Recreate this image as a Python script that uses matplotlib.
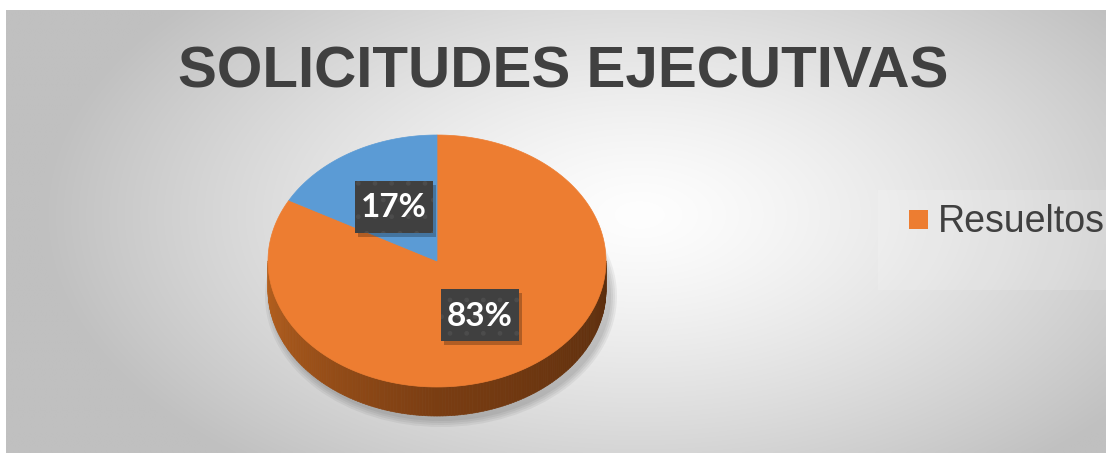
import numpy as np
import matplotlib
matplotlib.use("Agg")
import matplotlib.pyplot as plt
from matplotlib.patches import Polygon, Rectangle
from matplotlib.collections import PolyCollection
from matplotlib.colors import to_rgb

# ---- data ----
title = "SOLICITUDES EJECUTIVAS"
categories = ["Resueltos", "Pendientes"]
values = [83, 17]
colors = ["#ED7D31", "#5B9BD5"]
legend_shown = ["Resueltos"]

W, H = 1106, 453
fig = plt.figure(figsize=(W / 100, H / 100), dpi=100, facecolor="white")
ax = fig.add_axes([0, 0, 1, 1])
ax.set_xlim(0, W)
ax.set_ylim(H, 0)
ax.axis("off")

# ---- background radial gradient ----
x0, y0 = 6, 10
xs = np.linspace(x0, W, 400)
ys = np.linspace(y0, H, 200)
X, Y = np.meshgrid(xs, ys)
r = np.sqrt(((X - 640) / 600.0) ** 2 + ((Y - 215) / 330.0) ** 2)
r = np.clip(r, 0, 1)
v = (254 - (254 - 192) * r ** 1.3) / 255.0
img = np.dstack([v, v, v])
ax.imshow(img, extent=[x0, W, H, y0], aspect="auto", zorder=0, interpolation="bilinear")

# legend band highlight
ax.add_patch(Rectangle((878, 190), W - 878, 100, facecolor="white", alpha=0.15,
                       edgecolor="none", zorder=1))

# ---- 3D pie ----
cx, cy, a, b, depth = 437, 261, 169, 126, 29
total = float(sum(values))
fracs = [v_ / total for v_ in values]

def pt(t_deg, rr=1.0, dz=0.0):
    t = np.deg2rad(t_deg)
    return cx + rr * a * np.cos(t), cy - rr * b * np.sin(t) + dz

# soft shadow under pie
for k, al in enumerate([0.05, 0.05, 0.05, 0.05]):
    e = matplotlib.patches.Ellipse((cx + 4, cy + depth + 6), 2 * a + 14 - 4 * k,
                                   2 * b + 10 - 4 * k, facecolor="black", alpha=al,
                                   edgecolor="none", zorder=2)
    ax.add_patch(e)

# rim (front half)
c_left = np.array(to_rgb("#B8621F"))
c_mid = np.array(to_rgb("#7A3D12"))
c_right = np.array(to_rgb("#5A2D0D"))
ts = np.linspace(180, 360, 181)
quads, qcols = [], []
for t1, t2 in zip(ts[:-1], ts[1:]):
    p1 = pt(t1); p2 = pt(t2)
    quads.append([p1, p2, (p2[0], p2[1] + depth), (p1[0], p1[1] + depth)])
    f = ((t1 + t2) / 2 - 180) / 180.0
    if f < 0.5:
        c = c_left + (c_mid - c_left) * (f / 0.5)
    else:
        c = c_mid + (c_right - c_mid) * ((f - 0.5) / 0.5)
    qcols.append(c)
ax.add_collection(PolyCollection(quads, facecolors=qcols, edgecolors=qcols,
                                 linewidths=0.5, zorder=3))

# top faces: first slice starts at 12 o'clock, going clockwise
start = 90.0
mids = []
for frac, col in zip(fracs, colors):
    end = start - frac * 360.0
    tt = np.linspace(start, end, 200)
    poly = [(cx, cy)] + [pt(t) for t in tt]
    ax.add_patch(Polygon(poly, closed=True, facecolor=col, edgecolor=col,
                         linewidth=0.5, zorder=4))
    mids.append((start + end) / 2.0)
    start = end

# data labels
bw, bh = 78, 52
for frac, m in zip(fracs, mids):
    lx, ly = pt(m, rr=0.5)
    ax.add_patch(Rectangle((lx - bw / 2 + 3, ly - bh / 2 + 4), bw, bh,
                           facecolor="black", alpha=0.25, edgecolor="none", zorder=5))
    ax.add_patch(Rectangle((lx - bw / 2, ly - bh / 2), bw, bh,
                           facecolor="#404040", edgecolor="#4C4C4C", hatch=".",
                           linewidth=0, zorder=6))
    ax.text(lx, ly + 1, f"{round(frac * 100):d}%", ha="center", va="center",
            color="white", fontsize=24, fontweight="bold", family="Lato", zorder=7)

# title
ax.text(563, 87, title, ha="center", va="baseline", fontsize=42,
        fontweight="bold", family="Liberation Sans", color="#404040", zorder=8)

# legend
for name in legend_shown:
    i = categories.index(name)
    ax.add_patch(Rectangle((909, 210), 19, 19, facecolor=colors[i],
                           edgecolor="none", zorder=8))
    ax.text(938, 232, name, ha="left", va="baseline", fontsize=27,
            family="Liberation Sans", color="#404040", zorder=8)

fig.savefig("out.png", dpi=100, facecolor="white")
